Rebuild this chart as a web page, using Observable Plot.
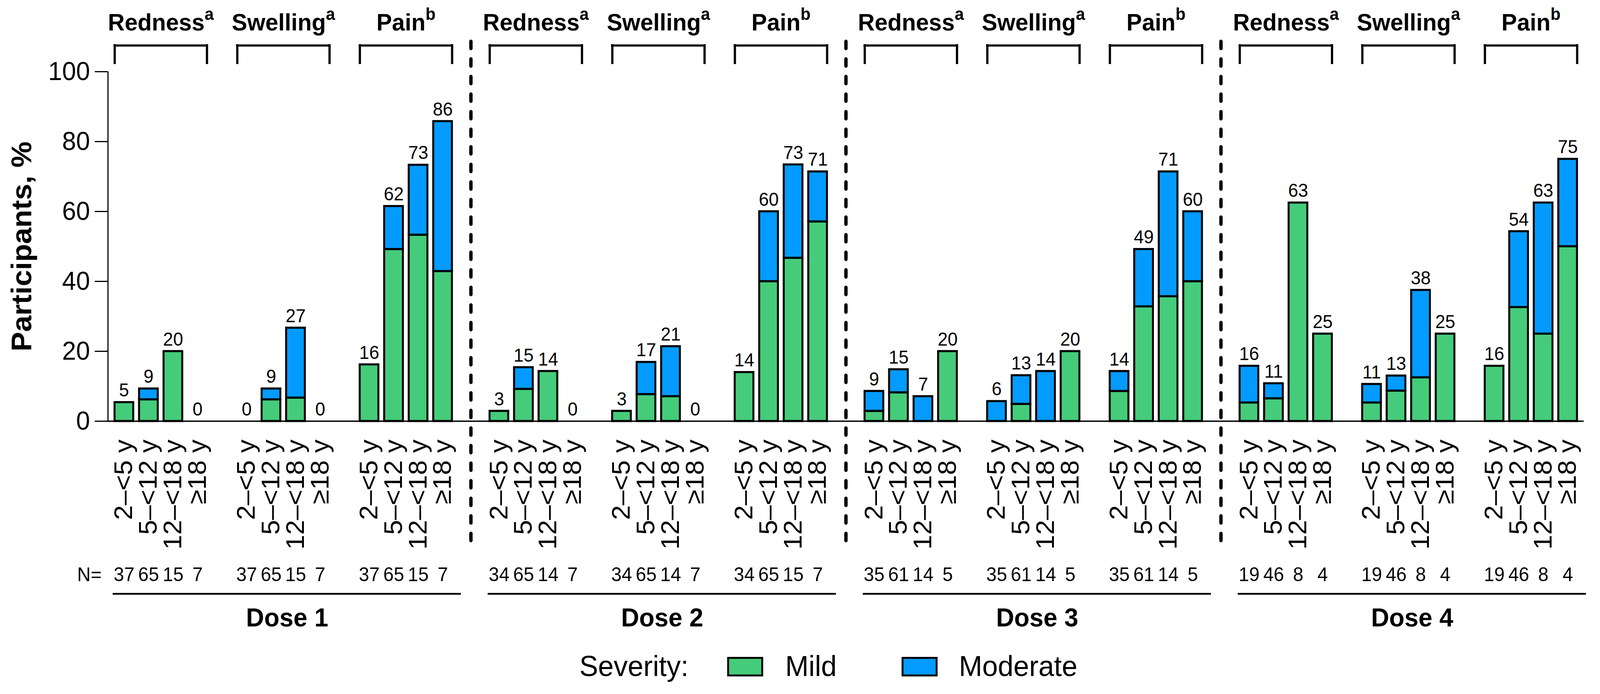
<!DOCTYPE html>
<html>
<head>
<meta charset="utf-8">
<script src="https://cdn.jsdelivr.net/npm/d3@7"></script>
<script src="https://cdn.jsdelivr.net/npm/@observablehq/plot@0.6"></script>
<style>
  html, body { margin: 0; padding: 0; background: #fff; overflow: hidden; }
  #wrap { position: relative; width: 4275px; height: 1777px; background: #fff; color: #000;
          font-family: 'Liberation Sans', Arial, Helvetica, sans-serif; overflow: hidden; transform-origin: 0 0; }
  #chart svg { display: block; }
  .lg-text { position: absolute; font-size: 75px; line-height: 75px; white-space: nowrap; }
  .lg-swatch { position: absolute; box-sizing: border-box; width: 96px; height: 50px; border: 5px solid #000; }
</style>
</head>
<body>
<div id="wrap">
  <div id="chart"></div>
  <div id="legend"></div>
</div>
<script>
// ---------------- data ----------------
const doses = ["Dose 1", "Dose 2", "Dose 3", "Dose 4"];
const reactions = ["Redness", "Swelling", "Pain"];
const reactionNotes = ["a", "a", "b"];
const ageGroups = ["2–<5 y", "5–<12 y", "12–<18 y", "≥18 y"];
const severities = ["Mild", "Moderate"];
const severityColors = ["#45cc7a", "#039bff"];
const yTicks = [0, 20, 40, 60, 80, 100];

// one row per dose; in each row: Redness (4 age groups), Swelling (4), Pain (4)
const mildPct = [
  [5.4, 6.2, 20, 0,     0, 6.2, 6.7, 0,     16.2, 49.2, 53.3, 42.9],
  [2.9, 9.2, 14.3, 0,   2.9, 7.7, 7.1, 0,   14.0, 40.0, 46.7, 57.1],
  [2.9, 8.2, 0, 20,     0, 4.9, 0, 20,      8.6, 32.8, 35.7, 40.0],
  [5.3, 6.5, 62.5, 25,  5.3, 8.7, 12.5, 25, 15.8, 32.6, 25.0, 50.0]
];
const moderatePct = [
  [0, 3.1, 0, 0,        0, 3.1, 20.0, 0,    0, 12.3, 20.0, 42.9],
  [0, 6.2, 0, 0,        0, 9.2, 14.3, 0,    0, 20.0, 26.7, 14.3],
  [5.7, 6.6, 7.1, 0,    5.7, 8.2, 14.3, 0,  5.7, 16.4, 35.7, 20.0],
  [10.5, 4.3, 0, 0,     5.3, 4.3, 25.0, 0,  0, 21.7, 37.5, 25.0]
];
const totalLabels = [
  [5, 9, 20, 0,     0, 9, 27, 0,     16, 62, 73, 86],
  [3, 15, 14, 0,    3, 17, 21, 0,    14, 60, 73, 71],
  [9, 15, 7, 20,    6, 13, 14, 20,   14, 49, 71, 60],
  [16, 11, 63, 25,  11, 13, 38, 25,  16, 54, 63, 75]
];
const nParticipants = [
  [37, 65, 15, 7,   37, 65, 15, 7,   37, 65, 15, 7],
  [34, 65, 14, 7,   34, 65, 14, 7,   34, 65, 15, 7],
  [35, 61, 14, 5,   35, 61, 14, 5,   35, 61, 14, 5],
  [19, 46, 8, 4,    19, 46, 8, 4,    19, 46, 8, 4]
];

// ---------------- tables for Plot ----------------
const keyOf = (r, a) => reactions[r] + "|" + ageGroups[a];
const xKeys = [];
reactions.forEach((r, ri) => {
  ageGroups.forEach((a, ai) => xKeys.push(keyOf(ri, ai)));
  if (ri < reactions.length - 1) xKeys.push("gap" + ri);
});
const barKeys = xKeys.filter(k => k.includes("|"));

const bars = [], labels = [], nRows = [], groupRows = [];
doses.forEach((dose, di) => {
  reactions.forEach((reaction, ri) => {
    groupRows.push({dose, reaction, k1: keyOf(ri, 0), k2: keyOf(ri, 1), k4: keyOf(ri, 3)});
    ageGroups.forEach((age, ai) => {
      const i = ri * ageGroups.length + ai;
      const key = keyOf(ri, ai);
      const m = mildPct[di][i], mo = moderatePct[di][i];
      if (m > 0) bars.push({dose, key, severity: severities[0], value: m});
      if (mo > 0) bars.push({dose, key, severity: severities[1], value: mo});
      labels.push({dose, key, top: m + mo, label: String(totalLabels[di][i])});
      nRows.push({dose, key, n: String(nParticipants[di][i])});
    });
  });
});

// ---------------- layout (styles) ----------------
const W = 4275, H = 1640;
const mTop = 183, mBottom = 562, mLeft = 288, mRight = 43.5;
const xPadIn = 0.237, xPadOut = 0.275, fxPadIn = 0.06437;
const step = 65.5, band = step * (1 - xPadIn);
const facetW = step * (xKeys.length - xPadIn + 2 * xPadOut);
const facetGap = 1002 - facetW;
const firstOffset = step * xPadOut + band / 2;

const svg = Plot.plot({
  width: W,
  height: H,
  marginTop: mTop,
  marginBottom: mBottom,
  marginLeft: mLeft,
  marginRight: mRight,
  style: {fontFamily: "'Liberation Sans', Arial, Helvetica, sans-serif", background: "#fff", color: "#000", overflow: "visible"},
  x: {type: "band", domain: xKeys, paddingInner: xPadIn, paddingOuter: xPadOut, round: false, axis: null},
  fx: {domain: doses, paddingInner: fxPadIn, paddingOuter: 0, round: false, axis: null, label: null},
  y: {domain: [0, 100], axis: null, label: null},
  color: {domain: severities, range: severityColors},
  marks: [
    // bars
    Plot.barY(bars, {fx: "dose", x: "key", y: "value", fill: "severity", stroke: "#000", strokeWidth: 5.3}),
    // baseline (continuous across facets)
    Plot.ruleY(doses.slice(0, 3), {fx: d => d, y: () => 0, insetRight: -facetGap, strokeWidth: 3.3}),
    Plot.ruleY(doses.slice(3), {fx: d => d, y: () => 0, strokeWidth: 3.3}),
    // y axis line
    Plot.ruleX([doses[0]], {fx: d => d, x: () => xKeys[0], y1: () => 0, y2: () => 100, dx: -firstOffset, strokeWidth: 3}),
    Plot.axisY({ticks: yTicks, tickSize: 35, tickPadding: 13, fontSize: 67, strokeWidth: 3, label: null}),
    Plot.axisX({ticks: barKeys, tickRotate: -90, tickSize: 0, tickPadding: 47, fontSize: 68,
                lineAnchor: "middle", tickFormat: k => k.split("|")[1], label: null}),
    // dose dividers
    Plot.ruleX(doses.slice(1), {fx: d => d, x: () => xKeys[0], y1: () => 100, y2: () => 0,
      dx: -(firstOffset + facetGap / 2), insetTop: -77, insetBottom: -327,
      strokeWidth: 9, strokeDasharray: "18,27", strokeLinecap: "round"}),
    // value labels
    Plot.text(labels, {fx: "dose", x: "key", y: "top", text: "label", dy: -15, lineAnchor: "bottom", fontSize: 48}),
    // reaction brackets
    Plot.ruleY(groupRows, {fx: "dose", x1: "k1", x2: "k4", y: () => 100, dy: -67, strokeWidth: 5.5, strokeLinecap: "square"}),
    Plot.ruleX(groupRows, {fx: "dose", x: "k1", y1: () => 100, y2: () => 100, insetTop: -67, insetBottom: 22, dx: -band / 2, strokeWidth: 6, strokeLinecap: "square"}),
    Plot.ruleX(groupRows, {fx: "dose", x: "k4", y1: () => 100, y2: () => 100, insetTop: -67, insetBottom: 22, dx: band / 2, strokeWidth: 6, strokeLinecap: "square"}),
    // reaction labels
    Plot.text(groupRows, {fx: "dose", x: "k2", text: "reaction", dx: step / 2, frameAnchor: "top", dy: -106,
      lineAnchor: "bottom", fontSize: 62, fontWeight: "bold"}),
    // N row
    Plot.text(nRows, {fx: "dose", x: "key", text: "n", frameAnchor: "bottom", dy: 409, lineAnchor: "bottom", fontSize: 50}),
    Plot.text(["N="], {fx: () => doses[0], x: () => xKeys[0], text: d => d, frameAnchor: "bottom", dy: 409, dx: -60,
      textAnchor: "end", lineAnchor: "bottom", fontSize: 50}),
    // underline + dose label
    Plot.ruleY(doses, {fx: d => d, y: () => 0, dy: 442, insetLeft: 13, insetRight: -6, strokeWidth: 4.5}),
    Plot.text(doses, {fx: d => d, text: d => d, frameAnchor: "bottom", dx: 10, dy: 525, lineAnchor: "bottom", fontSize: 67, fontWeight: "bold"}),
    // y label
    Plot.text(["Participants, %"], {fx: () => doses[0], text: d => d, frameAnchor: "left", rotate: -90, dx: -229,
      lineAnchor: "middle", textAnchor: "middle", fontSize: 75, fontWeight: "bold"})
  ]
});

// superscript notes on reaction labels
d3.select(svg).selectAll("text").each(function () {
  if (this.childElementCount) return;
  const i = reactions.indexOf(this.textContent);
  if (i >= 0) d3.select(this).append("tspan").attr("font-size", 44).attr("dy", -27).text(reactionNotes[i]);
});
document.getElementById("chart").appendChild(svg);

// ---------------- legend (HTML, below the SVG area) ----------------
const legend = document.getElementById("legend");
const addText = (txt, left) => {
  const el = document.createElement("div");
  el.className = "lg-text"; el.textContent = txt;
  el.style.left = left + "px"; el.style.top = "1668px";
  legend.appendChild(el);
};
addText("Severity:", 1548);
const swLeft = [1943, 2409], txtLeft = [2098, 2562];
severities.forEach((s, i) => {
  const sw = document.createElement("div");
  sw.className = "lg-swatch";
  sw.style.left = swLeft[i] + "px"; sw.style.top = "1682px"; sw.style.background = severityColors[i];
  legend.appendChild(sw);
  addText(s, txtLeft[i]);
});

// fit the 4275×1777 page into the actual viewport if it is smaller
function fit() {
  const sx = Math.min(1, window.innerWidth / 4275), sy = Math.min(1, window.innerHeight / 1777);
  document.getElementById("wrap").style.transform = (sx < 1 || sy < 1) ? `scale(${sx}, ${sy})` : "";
}
fit();
window.addEventListener("resize", fit);
</script>
</body>
</html>
